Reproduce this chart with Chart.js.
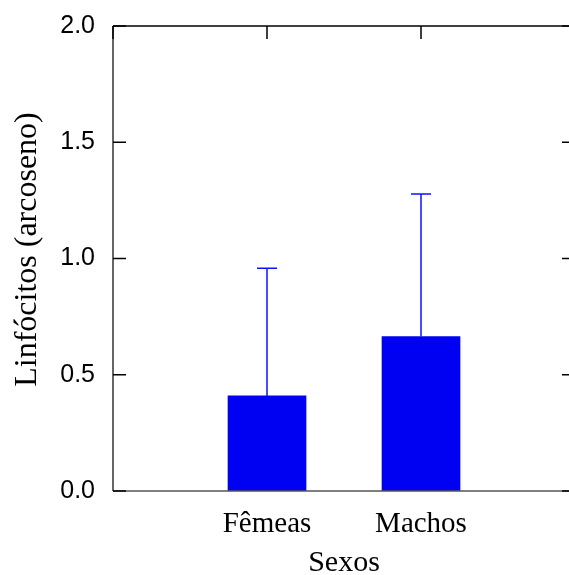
<!DOCTYPE html>
<html>
<head>
<meta charset="utf-8">
<script src="https://cdn.jsdelivr.net/npm/chart.js@4/dist/chart.umd.min.js"></script>
<style>
html,body{margin:0;padding:0;background:#fff;overflow:hidden;width:569px;height:575px;}
canvas{display:block;}
</style>
</head>
<body>
<canvas id="c" width="620" height="575"></canvas>
<script>
// Data
const categories = ['', 'Fêmeas', 'Machos', ''];
const means = [null, 0.409, 0.664, null];
const errorUpper = [null, 0.958, 1.277, null];
const yTicks = [0, 0.5, 1.0, 1.5, 2.0];

const frameAndErrors = {
  id: 'frameAndErrors',
  beforeDraw(chart) {
    const s = chart.scales.y;
    if (s && !s._titleShifted) {
      const orig = s.drawTitle.bind(s);
      s.drawTitle = function () {
        const c = this.ctx;
        c.save();
        c.translate(0, -9);
        orig();
        c.restore();
      };
      s._titleShifted = true;
    }
  },
  afterDatasetsDraw(chart) {
    const ctx = chart.ctx;
    const x = chart.scales.x, y = chart.scales.y;
    const a = chart.chartArea;
    ctx.save();
    // error bars
    ctx.strokeStyle = '#1010ff';
    ctx.lineWidth = 1.5;
    for (let i = 0; i < means.length; i++) {
      if (means[i] == null) continue;
      const px = x.getPixelForValue(i);
      const yb = y.getPixelForValue(means[i]);
      const yt = y.getPixelForValue(errorUpper[i]);
      ctx.beginPath();
      ctx.moveTo(px, yb); ctx.lineTo(px, yt);
      ctx.moveTo(px - 10, yt); ctx.lineTo(px + 10, yt);
      ctx.stroke();
    }
    // frame
    ctx.lineWidth = 1.5;
    ctx.strokeStyle = '#000';
    ctx.beginPath();
    ctx.moveTo(a.left, a.top); ctx.lineTo(a.right, a.top);
    ctx.stroke();
    ctx.strokeStyle = '#333';
    ctx.beginPath();
    ctx.moveTo(a.left, a.top); ctx.lineTo(a.left, a.bottom);
    ctx.stroke();
    ctx.strokeStyle = '#555';
    ctx.beginPath();
    ctx.moveTo(a.left, a.bottom); ctx.lineTo(a.right, a.bottom);
    ctx.stroke();
    // ticks
    ctx.strokeStyle = '#000';
    ctx.beginPath();
    yTicks.forEach(v => {
      const py = y.getPixelForValue(v);
      ctx.moveTo(a.left, py); ctx.lineTo(a.left + 13, py);
      ctx.moveTo(a.right, py); ctx.lineTo(a.right - 13, py);
    });
    categories.forEach((c, i) => {
      const px = x.getPixelForValue(i);
      ctx.moveTo(px, a.top); ctx.lineTo(px, a.top + 13);
    });
    ctx.stroke();
    ctx.restore();
  }
};

new Chart(document.getElementById('c'), {
  type: 'bar',
  data: {
    labels: categories,
    datasets: [{
      data: means,
      backgroundColor: '#0000f2',
      borderWidth: 0,
      barThickness: 78
    }]
  },
  options: {
    responsive: false,
    devicePixelRatio: 1,
    animation: false,
    layout: { padding: { top: 26, right: 45, left: 0, bottom: 0 } },
    plugins: { legend: { display: false }, tooltip: { enabled: false } },
    scales: {
      x: {
        type: 'category',
        offset: false,
        grid: { display: false },
        border: { display: false },
        ticks: {
          autoSkip: false, maxRotation: 0, minRotation: 0,
          color: '#000', padding: 8,
          font: { family: '"Liberation Serif", "Times New Roman", serif', size: 29 }
        },
        title: {
          display: true, text: 'Sexos', color: '#000',
          padding: { top: 0, bottom: 0 },
          font: { family: '"Liberation Serif", "Times New Roman", serif', size: 30, lineHeight: 0.8 }
        },
        afterFit(s) { s.height = 84; }
      },
      y: {
        min: 0, max: 2,
        grid: { display: false },
        border: { display: false },
        afterBuildTicks(s) { s.ticks = yTicks.map(v => ({ value: v })); },
        ticks: {
          color: '#000', padding: 10,
          callback: v => Number(v).toFixed(1),
          font: { family: '"Liberation Sans", Arial, sans-serif', size: 25 }
        },
        title: {
          display: true, text: 'Linfócitos (arcoseno)', color: '#000',
          padding: { top: 12, bottom: 0 },
          font: { family: '"Liberation Serif", "Times New Roman", serif', size: 32, lineHeight: 1 }
        },
        afterFit(s) { s.width = 113; }
      }
    }
  },
  plugins: [frameAndErrors]
});
</script>
</body>
</html>
